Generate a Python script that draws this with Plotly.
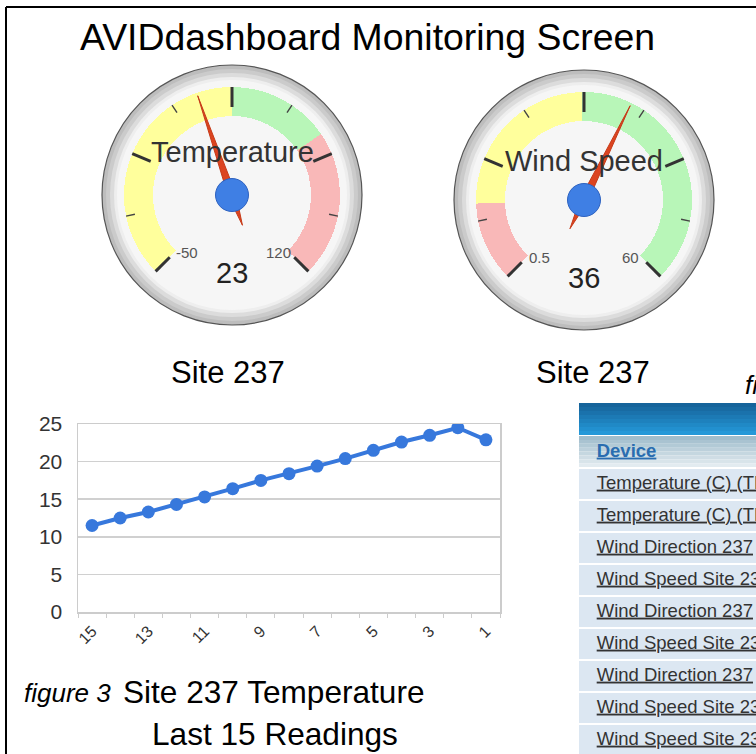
import plotly.graph_objects as go

W, H = 756, 754
FONT = "Arial, 'Liberation Sans', Helvetica, sans-serif"

# ---------------- data ----------------
page_title = "AVIDdashboard Monitoring Screen"

gauge_titles = ["Temperature", "Wind Speed"]
gauge_values = [23, 36]
gauge_mins = [-50, 0.5]
gauge_maxs = [120, 60]
gauge_min_labels = ["-50", "0.5"]
gauge_max_labels = ["120", "60"]
gauge_sites = ["Site 237", "Site 237"]
temp_band_edges = [-50, 35, 70, 120]
wind_band_edges = [0.5, 10, 30, 60]

reading_labels = ["15", "14", "13", "12", "11", "10", "9", "8",
                  "7", "6", "5", "4", "3", "2", "1"]
temperature_readings = [11.5, 12.5, 13.3, 14.3, 15.3, 16.4, 17.5, 18.4,
                        19.4, 20.4, 21.5, 22.6, 23.5, 24.5, 22.9]
reading_tick_labels = ["15", "13", "11", "9", "7", "5", "3", "1"]

table_header = "Device"
table_devices = ["Temperature (C) (TEMP237)", "Temperature (C) (TEMP237B)",
                 "Wind Direction 237", "Wind Speed Site 237",
                 "Wind Direction 237", "Wind Speed Site 237",
                 "Wind Direction 237", "Wind Speed Site 237",
                 "Wind Speed Site 237"]

caption_italic = "figure 3"
caption_line1 = "Site 237 Temperature"
caption_line2 = "Last 15 Readings"
side_caption = "figure 4"

# ---------------- styles / layout geometry ----------------
YELLOW, GREEN, RED = "#ffff9c", "#b8f6b8", "#f9b8b8"
band_colors = [[YELLOW, GREEN, RED], [RED, YELLOW, GREEN]]
band_edges = [temp_band_edges, wind_band_edges]
gauge_centers = [(232, 195), (584, 200)]
gauge_title_dy = [-43, -39]
R = 130


def px(x):
    return x / W


def py(y):
    return 1 - y / H


def gauge_angle(v, vmin, vmax):
    return -135 + (v - vmin) / (vmax - vmin) * 270


def lerp_col(c0, c1, f):
    return "rgb(%d,%d,%d)" % tuple(int(c0[j] + (c1[j] - c0[j]) * f) for j in range(3))


fig = go.Figure()
shapes = []
annotations = []

# frame
shapes.append(dict(type="line", xref="paper", yref="paper", x0=px(6), x1=1.0,
                   y0=py(7), y1=py(7), line=dict(color="black", width=2)))
shapes.append(dict(type="line", xref="paper", yref="paper", x0=px(6), x1=px(6),
                   y0=py(7), y1=0, line=dict(color="black", width=2)))

annotations.append(dict(text=page_title, xref="paper", yref="paper", x=px(78), y=py(37),
                        xanchor="left", yanchor="middle", showarrow=False,
                        font=dict(family=FONT, size=37.4, color="#000")))

# ---------------- gauges ----------------
bezel = [(R, "#bdbdbd", "#555"), (R - 4, "#cbcbcb", None), (R - 8, "#dcdcdc", None),
         (R - 12, "#eeeeee", None), (R - 15, "#f6f6f6", None)]

for i in range(2):
    cx, cy = gauge_centers[i]
    vmin, vmax = gauge_mins[i], gauge_maxs[i]
    pid = "polar" if i == 0 else "polar2"
    for rr, fc, lc in bezel:
        shapes.append(dict(type="circle", xref="paper", yref="paper", layer="below",
                           x0=px(cx - rr), x1=px(cx + rr), y0=py(cy + rr), y1=py(cy - rr),
                           fillcolor=fc,
                           line=dict(color=lc if lc else fc, width=1.2 if lc else 0)))
    edges = band_edges[i]
    a0 = [gauge_angle(edges[k], vmin, vmax) for k in range(3)]
    a1 = [gauge_angle(edges[k + 1], vmin, vmax) for k in range(3)]
    fig.add_trace(go.Barpolar(
        r=[29, 29, 29], base=[79, 79, 79],
        theta=[(a0[k] + a1[k]) / 2 for k in range(3)],
        width=[a1[k] - a0[k] for k in range(3)],
        marker=dict(color=band_colors[i], line=dict(width=0)),
        subplot=pid, hoverinfo="skip", showlegend=False))
    major_vals = [vmin + (vmax - vmin) * k / 4 for k in range(5)]
    minor_vals = [vmin + (vmax - vmin) * (k + 0.5) / 4 for k in range(4)]
    r_maj, t_maj = [], []
    for v in major_vals:
        a = gauge_angle(v, vmin, vmax)
        r_maj += [88, 108, None]
        t_maj += [a, a, None]
    r_min, t_min = [], []
    for v in minor_vals:
        a = gauge_angle(v, vmin, vmax)
        r_min += [99, 108, None]
        t_min += [a, a, None]
    fig.add_trace(go.Scatterpolar(r=r_maj, theta=t_maj, mode="lines",
                                  line=dict(color="#333", width=3), subplot=pid,
                                  hoverinfo="skip", showlegend=False, connectgaps=False))
    fig.add_trace(go.Scatterpolar(r=r_min, theta=t_min, mode="lines",
                                  line=dict(color="#444", width=1.4), subplot=pid,
                                  hoverinfo="skip", showlegend=False, connectgaps=False))
    a = gauge_angle(gauge_values[i], vmin, vmax)
    fig.add_trace(go.Scatterpolar(
        r=[105, 4, 32, 4, 105], theta=[a, a + 90, a + 180, a - 90, a],
        mode="lines", fill="toself", fillcolor="#dc4420",
        line=dict(color="#c53a18", width=1), subplot=pid,
        hoverinfo="skip", showlegend=False))
    fig.add_trace(go.Scatterpolar(
        r=[0], theta=[0], mode="markers",
        marker=dict(size=33, color="#3f7fe4", line=dict(color="#2e62c0", width=1)),
        subplot=pid, hoverinfo="skip", showlegend=False))

    dom = dict(x=[px(cx - R), px(cx + R)], y=[py(cy + R), py(cy - R)])
    fig.update_layout(**{pid: dict(
        domain=dom, bgcolor="rgba(0,0,0,0)", hole=0,
        radialaxis=dict(visible=False, range=[0, R]),
        angularaxis=dict(visible=False, rotation=90, direction="clockwise"))})

    annotations.append(dict(text=gauge_titles[i], xref="paper", yref="paper",
                            x=px(cx), y=py(cy + gauge_title_dy[i]), showarrow=False,
                            xanchor="center", yanchor="middle",
                            font=dict(family=FONT, size=29, color="#333")))
    annotations.append(dict(text=str(gauge_values[i]), xref="paper", yref="paper",
                            x=px(cx), y=py(cy + 78), showarrow=False,
                            xanchor="center", yanchor="middle",
                            font=dict(family=FONT, size=29, color="#222")))
    annotations.append(dict(text=gauge_min_labels[i], xref="paper", yref="paper",
                            x=px(cx - 45), y=py(cy + 57), showarrow=False,
                            xanchor="center", yanchor="middle",
                            font=dict(family=FONT, size=15, color="#555")))
    annotations.append(dict(text=gauge_max_labels[i], xref="paper", yref="paper",
                            x=px(cx + 46), y=py(cy + 57), showarrow=False,
                            xanchor="center", yanchor="middle",
                            font=dict(family=FONT, size=15, color="#555")))

site_x = [228, 593]
for i in range(2):
    annotations.append(dict(text=gauge_sites[i], xref="paper", yref="paper",
                            x=px(site_x[i]), y=py(372), showarrow=False,
                            xanchor="center", yanchor="middle",
                            font=dict(family=FONT, size=31, color="#000")))

# ---------------- line chart ----------------
n = len(reading_labels)
fig.add_trace(go.Scatter(
    x=reading_labels, y=temperature_readings, mode="lines+markers",
    line=dict(color="#3778dc", width=4),
    marker=dict(color="#3778dc", size=13),
    xaxis="x", yaxis="y", hoverinfo="skip", showlegend=False))
fig.add_trace(go.Scatter(x=[-0.5, n - 0.5], y=[0, 0], mode="markers",
                         marker=dict(opacity=0), xaxis="x2", yaxis="y",
                         hoverinfo="skip", showlegend=False))

x_dom = [px(78), px(500)]
fig.update_layout(
    xaxis=dict(domain=x_dom, type="category", categoryorder="array",
               categoryarray=reading_labels, range=[-0.5, n - 0.5], autorange=False,
               tickmode="array", tickvals=reading_tick_labels, ticktext=reading_tick_labels,
               tickangle=-45, ticks="", showgrid=False, zeroline=False,
               showline=True, linecolor="#cccccc", linewidth=1.5, mirror=True,
               tickfont=dict(family=FONT, size=16, color="#333"),
               ticklabelstandoff=2, anchor="y"),
    xaxis2=dict(domain=x_dom, overlaying="x", anchor="y", range=[-0.5, n - 0.5],
                autorange=False, tickmode="array", tickvals=[k - 0.5 for k in range(n + 1)],
                ticks="outside", ticklen=5, tickcolor="#cccccc", tickwidth=1,
                showticklabels=False, showgrid=False, zeroline=False, showline=False),
    yaxis=dict(domain=[py(612), py(424)], range=[0, 25], dtick=5, tick0=0,
               showgrid=True, gridcolor="#d0d0d0", gridwidth=1.5, zeroline=False,
               showline=True, linecolor="#cccccc", linewidth=1.5, mirror=True,
               ticks="", ticklabelstandoff=10,
               tickfont=dict(family=FONT, size=21, color="#333")),
)

annotations.append(dict(text="<i>" + caption_italic + "</i>", xref="paper", yref="paper",
                        x=px(22), y=py(693), xanchor="left", yanchor="middle", showarrow=False,
                        font=dict(family=FONT, size=26, color="#000")))
annotations.append(dict(text=caption_line1, xref="paper", yref="paper",
                        x=px(121), y=py(692), xanchor="left", yanchor="middle", showarrow=False,
                        font=dict(family=FONT, size=31.6, color="#000")))
annotations.append(dict(text=caption_line2, xref="paper", yref="paper",
                        x=px(150), y=py(734), xanchor="left", yanchor="middle", showarrow=False,
                        font=dict(family=FONT, size=31.6, color="#000")))
annotations.append(dict(text="<i>" + side_caption + "</i>", xref="paper", yref="paper",
                        x=px(743), y=py(385), xanchor="left", yanchor="middle", showarrow=False,
                        font=dict(family=FONT, size=26, color="#000")))

# ---------------- device table (rows on a hidden axis) ----------------
TABLE_L, TABLE_TOP, ROW_H = 579, 436, 32
# blue title bar gradient
blue_top, blue_bot = (0x16, 0x64, 0x9b), (0x24, 0x98, 0xd8)
for k in range(8):
    y0 = 403 + k * 4
    shapes.append(dict(type="rect", xref="paper", yref="paper", layer="below",
                       x0=px(TABLE_L), x1=1.0, y0=py(y0 + 4), y1=py(y0),
                       fillcolor=lerp_col(blue_top, blue_bot, k / 7), line=dict(width=0)))
# header row gradient
hdr_top, hdr_bot = (0xa0, 0xbd, 0xcc), (0xe2, 0xeb, 0xf0)
for k in range(8):
    y0 = TABLE_TOP + k * 3.875
    shapes.append(dict(type="rect", xref="paper", yref="paper", layer="below",
                       x0=px(TABLE_L), x1=1.0, y0=py(y0 + 3.875), y1=py(y0),
                       fillcolor=lerp_col(hdr_top, hdr_bot, k / 7), line=dict(width=0)))

row_idx = list(range(1, len(table_devices) + 1))
rows_visible = (H - TABLE_TOP) / ROW_H
fig.add_trace(go.Bar(
    x=[1] * len(table_devices), y=row_idx, base=0, orientation="h",
    width=(ROW_H - 2) / ROW_H, marker=dict(color="#dce7f2", line=dict(width=0)),
    xaxis="x3", yaxis="y3", hoverinfo="skip", showlegend=False))
fig.add_trace(go.Scatter(
    x=[0.1] * len(table_devices), y=row_idx, mode="text",
    text=["<u>" + d + "</u>" for d in table_devices], textposition="middle right",
    textfont=dict(family=FONT, size=18.5, color="#333"),
    xaxis="x3", yaxis="y3", hoverinfo="skip", showlegend=False, cliponaxis=True))
fig.add_trace(go.Scatter(
    x=[0.1], y=[0], mode="text",
    text=["<b><u>" + table_header + "</u></b>"], textposition="middle right",
    textfont=dict(family=FONT, size=18.5, color="#2a6db0"),
    xaxis="x3", yaxis="y3", hoverinfo="skip", showlegend=False, cliponaxis=True))
fig.update_layout(
    xaxis3=dict(domain=[px(TABLE_L), 1.0], range=[0, 1], visible=False,
                anchor="y3", fixedrange=True),
    yaxis3=dict(domain=[0, py(TABLE_TOP)], range=[-0.5 + rows_visible, -0.5],
                visible=False, anchor="x3", fixedrange=True),
)

fig.update_layout(
    width=W, height=H, margin=dict(l=0, r=0, t=0, b=0),
    paper_bgcolor="white", plot_bgcolor="rgba(0,0,0,0)", template="none",
    shapes=shapes, annotations=annotations, showlegend=False,
    font=dict(family=FONT), bargap=0,
)

fig.write_html("out.html", config={"displayModeBar": False, "staticPlot": True},
               post_script="document.body.style.margin='0px';")
